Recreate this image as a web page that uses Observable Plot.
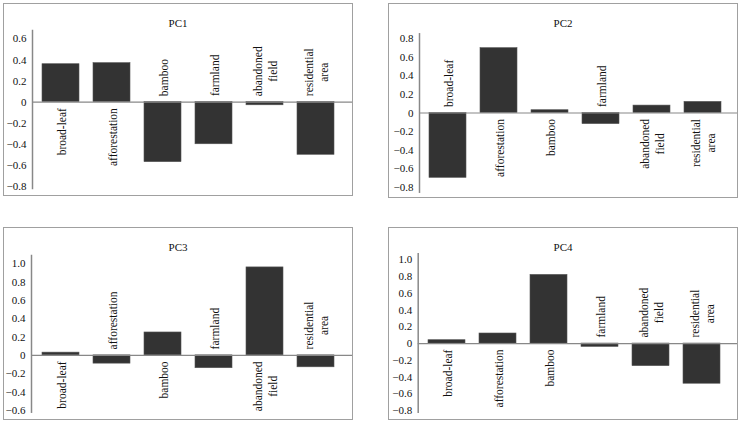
<!DOCTYPE html>
<html>
<head>
<meta charset="utf-8">
<script src="https://cdn.jsdelivr.net/npm/d3@7"></script>
<script src="https://cdn.jsdelivr.net/npm/@observablehq/plot@0.6"></script>
<style>
  html, body { margin: 0; padding: 0; background: #fff; }
  #page { position: relative; width: 742px; height: 421px; overflow: hidden; background: #fff; }
  .panel { position: absolute; box-sizing: border-box; border: 1px solid #a0a0a0; }
  .panel svg { position: absolute; left: 0; top: 0; overflow: visible; }
  .title { position: absolute; font-family: "Liberation Serif", "Times New Roman", Tinos, "DejaVu Serif", serif; font-weight: normal; font-size: 11px; color: #111; text-align: center; line-height: 12px; }
  #probe { position: absolute; left: 10px; top: 200px; font-size: 11px; }
</style>
</head>
<body>
<div id="page"></div>
<script>
// ---- data ----
const categories = ["broad-leaf", "afforestation", "bamboo", "farmland", "abandoned\nfield", "residential\narea"];
const titles = ["PC1", "PC2", "PC3", "PC4"];
const pc1 = [0.36, 0.37, -0.57, -0.40, -0.03, -0.50];
const pc2 = [-0.70, 0.70, 0.03, -0.12, 0.08, 0.12];
const pc3 = [0.03, -0.09, 0.25, -0.14, 0.96, -0.13];
const pc4 = [0.04, 0.12, 0.82, -0.04, -0.27, -0.48];
const ticks1 = [-0.8, -0.6, -0.4, -0.2, 0, 0.2, 0.4, 0.6];
const ticks2 = [-0.8, -0.6, -0.4, -0.2, 0, 0.2, 0.4, 0.6, 0.8];
const ticks3 = [-0.6, -0.4, -0.2, 0, 0.2, 0.4, 0.6, 0.8, 1.0];
const ticks4 = [-0.8, -0.6, -0.4, -0.2, 0, 0.2, 0.4, 0.6, 0.8, 1.0];

// ---- layout (styles) ----
const panels = [
  {title: titles[0], values: pc1, ticks: ticks1, domain: [-0.82, 0.68],
   box: {left: 3, top: 3, width: 350, height: 193}, ml: 28, mr: 10, mt: 26, mb: 7, inset: 1, titleY: 14},
  {title: titles[1], values: pc2, ticks: ticks2, domain: [-0.855, 0.855],
   box: {left: 388, top: 3, width: 350, height: 195}, ml: 30, mr: 8, mt: 29.3, mb: 5.3, inset: 1, titleY: 14},
  {title: titles[2], values: pc3, ticks: ticks3, domain: [-0.62, 1.09],
   box: {left: 3, top: 227, width: 350, height: 193}, ml: 27, mr: 9.7, mt: 27, mb: 7.3, inset: 1.7, titleY: 14},
  {title: titles[3], values: pc4, ticks: ticks4, domain: [-0.82, 1.072],
   box: {left: 388, top: 227, width: 350, height: 193}, ml: 28.7, mr: 8.8, mt: 25.3, mb: 7.3, inset: 1.5, titleY: 14}
];

const FONT = `"Liberation Serif", "Times New Roman", Tinos, "DejaVu Serif", serif`;
const labelSize = 11.5;
const ctx = document.createElement("canvas").getContext("2d");
ctx.font = `${labelSize}px ${FONT}`;
const textLen = s => Math.max(...s.split("\n").map(l => ctx.measureText(l).width));
const fmt = d => d === 0 ? "0" : d3.format(".1f")(d);
const gap = 6;

const page = document.getElementById("page");
for (const p of panels) {
  const div = document.createElement("div");
  div.className = "panel";
  Object.assign(div.style, {left: p.box.left + "px", top: p.box.top + "px", width: p.box.width + "px", height: p.box.height + "px"});
  const innerW = p.box.width - 2, innerH = p.box.height - 2;
  const data = categories.map((c, i) => ({cat: c, value: p.values[i]}));

  const labelMarks = data.map(d => {
    const L = textLen(d.cat);
    const off = gap + L / 2;
    return Plot.text([d], {
      x: "cat", y: () => 0, text: "cat", rotate: -90,
      textAnchor: "middle", lineAnchor: "middle", lineHeight: 1.3,
      dy: d.value >= 0 ? off : -off,
      fontSize: labelSize, fontFamily: FONT, fill: "#111"
    });
  });

  const chart = Plot.plot({
    width: innerW, height: innerH,
    marginLeft: p.ml, marginRight: p.mr, marginTop: p.mt, marginBottom: p.mb,
    style: {fontFamily: FONT, fontSize: "11px", color: "#111", background: "transparent", overflow: "visible"},
    x: {domain: categories, paddingInner: 0.28, paddingOuter: 0.14, insetLeft: p.inset, axis: null},
    y: {domain: p.domain, axis: null},
    marks: [
      Plot.barY(data, {x: "cat", y: "value", fill: "#333", stroke: "#555", strokeWidth: 0.6}),
      Plot.ruleY([0], {stroke: "#888", strokeWidth: 1.2, insetRight: -p.mr}),
      Plot.frame({anchor: "left", stroke: "#888", strokeWidth: 1.5}),
      Plot.axisY({ticks: p.ticks, tickFormat: fmt, tickSize: 0, tickPadding: 6, label: null, fontSize: 11, fontFamily: FONT, fill: "#111"}),
      ...labelMarks
    ]
  });
  chart.style.fontFamily = FONT;
  div.appendChild(chart);

  const t = document.createElement("div");
  t.className = "title";
  t.textContent = p.title;
  Object.assign(t.style, {left: "0px", width: innerW + "px", top: (p.titleY - 1) + "px"});
  div.appendChild(t);
  page.appendChild(div);
}
</script>
</body>
</html>
